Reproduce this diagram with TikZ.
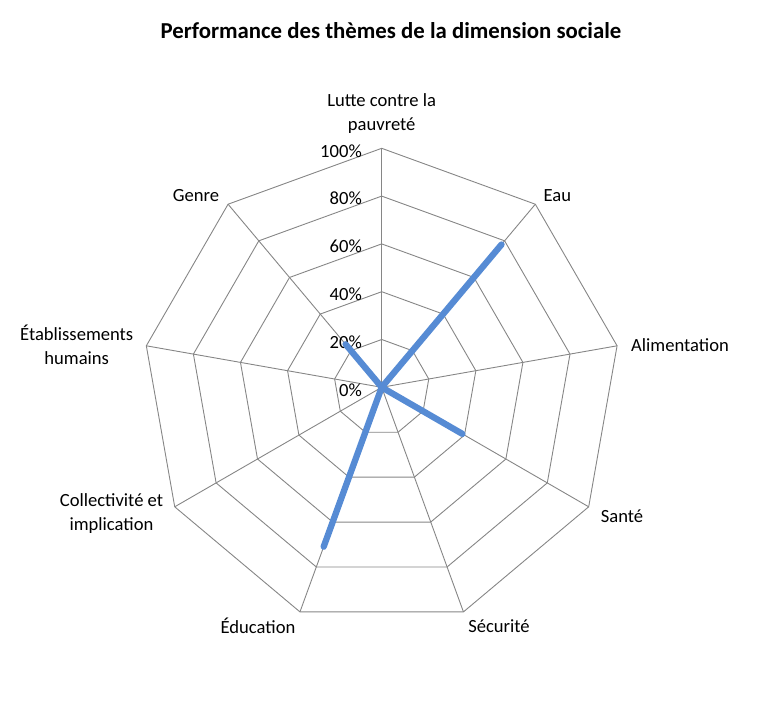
\documentclass[tikz,border=0pt]{standalone}
\usepackage{fontspec}
\setmainfont{Carlito}
\definecolor{gridc}{RGB}{134,134,134}
\definecolor{serie}{RGB}{86,139,212}
\begin{document}
\begin{tikzpicture}[x=1pt,y=1pt,
  gridline/.style={draw=gridc,line width=0.9pt},
  datal/.style={draw=serie,line width=6.3pt,line cap=round,line join=round},
  lab/.style={font=\fontsize{18.6}{24}\selectfont,align=center,inner sep=0pt},
  pct/.style={font=\fontsize{18.6}{20}\selectfont,anchor=east,inner sep=0pt}]
\useasboundingbox (0,0) rectangle (764,-709);
\node[font=\bfseries\fontsize{22.8}{26}\selectfont,inner sep=0pt] (title) at (391,-31) {Performance des thèmes de la dimension sociale};
\begin{scope}[shift={(381.7,-387.3)}]
  \coordinate (O) at (0,0);
  \foreach \k in {1,...,5} {
    \draw[gridline] (90:{\k*47.8}) \foreach \i in {1,...,8} {-- (90-\i*40:{\k*47.8})} -- cycle;
  }
  \foreach \i in {0,...,8} {
    \coordinate (ax\i) at (90-\i*40:239);
    \draw[gridline] (O) -- (ax\i);
  }
  \foreach \k/\t in {0/0\%,1/20\%,2/40\%,3/60\%,4/80\%,5/100\%} {
    \node[pct] (p\k) at (-19.7,{\k*47.8-2.5}) {\t};
  }
  \coordinate (d1) at (50:{0.78*239});
  \coordinate (d3) at (-30:{0.39*239});
  \coordinate (d5) at (-110:{0.71*239});
  \coordinate (d8) at (130:{0.235*239});
  \draw[datal] (O) -- (d1) -- (O) -- (d3) -- (O) -- (d5) -- (O) -- (d8) -- cycle;
\end{scope}
\node[lab] (l0) at (381.7,-113.7) {Lutte contre la\\pauvreté};
\node[lab] (l1) at (557.3,-196) {Eau};
\node[lab] (l2) at (680,-345) {Alimentation};
\node[lab] (l3) at (622,-516) {Santé};
\node[lab] (l4) at (499,-626) {Sécurité};
\node[lab] (l5) at (258,-626) {Éducation};
\node[lab] (l6) at (111.5,-514) {Collectivité et\\implication};
\node[lab] (l7) at (76.7,-345) {Établissements\\humains};
\node[lab] (l8) at (196,-196) {Genre};
\end{tikzpicture}
\end{document}
